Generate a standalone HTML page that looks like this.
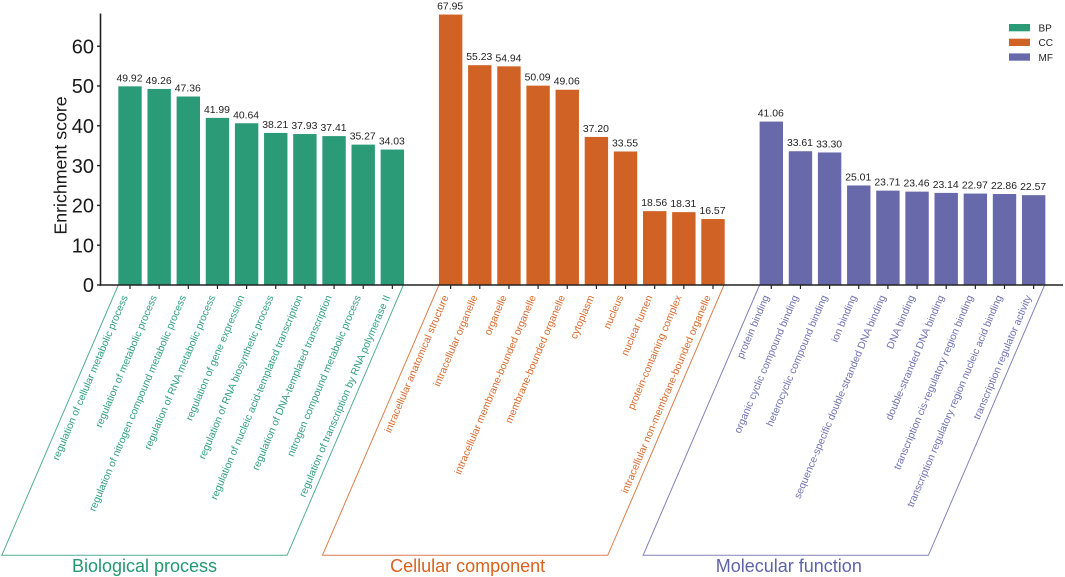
<!DOCTYPE html>
<html lang="en">
<head>
<meta charset="utf-8">
<title>GO enrichment bar chart</title>
<style>
html,body{margin:0;padding:0;background:#fff;width:1065px;height:577px;overflow:hidden}
svg{display:block;font-family:"Liberation Sans",Arial,sans-serif}
</style>
</head>
<body>
<svg id="chart" xmlns="http://www.w3.org/2000/svg" width="1065" height="577" viewBox="0 0 1065 577"></svg>
<script>
const groupKeys = ['BP', 'CC', 'MF'];
const groupTitles = ['Biological process', 'Cellular component', 'Molecular function'];
const yTicks = [0, 10, 20, 30, 40, 50, 60];
const bpTerms = ['regulation of cellular metabolic process', 'regulation of metabolic process', 'regulation of nitrogen compound metabolic process', 'regulation of RNA metabolic process', 'regulation of gene expression', 'regulation of RNA biosynthetic process', 'regulation of nucleic acid-templated transcription', 'regulation of DNA-templated transcription', 'nitrogen compound metabolic process', 'regulation of transcription by RNA polymerase II'];
const bpValues = [49.92, 49.26, 47.36, 41.99, 40.64, 38.21, 37.93, 37.41, 35.27, 34.03];
const ccTerms = ['intracellular anatomical structure', 'intracellular organelle', 'organelle', 'intracellular membrane-bounded organelle', 'membrane-bounded organelle', 'cytoplasm', 'nucleus', 'nuclear lumen', 'protein-containing complex', 'intracellular non-membrane-bounded organelle'];
const ccValues = [67.95, 55.23, 54.94, 50.09, 49.06, 37.20, 33.55, 18.56, 18.31, 16.57];
const mfTerms = ['protein binding', 'organic cyclic compound binding', 'heterocyclic compound binding', 'ion binding', 'sequence-specific double-stranded DNA binding', 'DNA binding', 'double-stranded DNA binding', 'transcription cis-regulatory region binding', 'transcription regulatory region nucleic acid binding', 'transcription regulator activity'];
const mfValues = [41.06, 33.61, 33.30, 25.01, 23.71, 23.46, 23.14, 22.97, 22.86, 22.57];

const termSets = [bpTerms, ccTerms, mfTerms];
const valueSets = [bpValues, ccValues, mfValues];
const barColors = ['#2a9a77', '#d06226', '#6869aa'];
const lineColors = ['#55ae92', '#dc7f4e', '#8183b9'];
const textColors = ['#2f9f7d', '#d9692c', '#6f71b0'];
const titleColors = ['#22996f', '#d9611f', '#5f62a9'];
const titleShift = [14.5, 17, 17.5];

const NS = 'http://www.w3.org/2000/svg';
const svg = document.getElementById('chart');
const Y0 = 285, PXPER = 3.98, X0 = 130, STEP = 29.15, BARW = 23.4;
const yScale = v => Y0 - v * PXPER;
const xScale = (g, i) => X0 + (g * 11 + i) * STEP;

function make(tag, attrs, text) {
  const el = document.createElementNS(NS, tag);
  for (const k in attrs) el.setAttribute(k, attrs[k]);
  if (text !== undefined) el.textContent = text;
  return el;
}

const axisColor = '#222222';

// bars, ticks, labels
termSets.forEach((terms, g) => {
  const key = groupKeys[g].toLowerCase();
  const left = xScale(g, 0) - 11.7;
  const right = xScale(g, terms.length - 1) + 11;
  const bx = left - 116.5, by = 555.3;

  // bracket parallelogram
  const bracket = make('polygon', {
    points: left + ',' + Y0 + ' ' + bx + ',' + by + ' ' + (bx + 285.3) + ',' + by + ' ' + right + ',' + Y0,
    fill: 'none', stroke: lineColors[g], 'stroke-width': 1
  });
  
  
  svg.appendChild(bracket);

  terms.forEach((term, i) => {
    const cx = xScale(g, i);
    const v = valueSets[g][i];

    const bar = make('rect', {
      x: cx - BARW / 2, y: yScale(v), width: BARW, height: Y0 - yScale(v), fill: barColors[g]
    });
    
    
    svg.appendChild(bar);

    const val = make('text', {
      x: cx - 0.5, y: yScale(v) - 5, 'text-anchor': 'middle', 'font-size': 10.4, fill: '#222'
    }, v.toFixed(2));
    
    
    svg.appendChild(val);

    const tick = make('line', {
      x1: cx, x2: cx, y1: Y0, y2: Y0 + 4, stroke: axisColor, 'stroke-width': 1.2
    });
    
    
    svg.appendChild(tick);

    const lx = cx - 2, ly = 297;
    const label = make('text', {
      x: lx, y: ly, 'text-anchor': 'end', 'font-size': 10.3, fill: textColors[g],
      transform: 'rotate(-67 ' + lx + ' ' + ly + ')'
    }, term);
    
    
    svg.appendChild(label);
  });

  const title = make('text', {
    x: xScale(g, 0) + titleShift[g], y: 572, 'text-anchor': 'middle', 'font-size': 18, fill: titleColors[g]
  }, groupTitles[g]);
  
  
  svg.appendChild(title);

  const swatchY = 24 + g * 14.7;
  const swatch = make('rect', { x: 1009, y: swatchY, width: 21, height: 7.3, fill: barColors[g] });
  
  
  svg.appendChild(swatch);

  const legendText = make('text', { x: 1038.5, y: swatchY + 7.5, 'font-size': 10, fill: '#222' }, groupKeys[g]);
  
  
  svg.appendChild(legendText);
});

// axes
const yAxis = make('line', { x1: 100.5, x2: 100.5, y1: 13.5, y2: Y0 + 0.8, stroke: axisColor, 'stroke-width': 1.6 });


svg.appendChild(yAxis);

const xAxis = make('line', { x1: 100, x2: 1063, y1: Y0, y2: Y0, stroke: axisColor, 'stroke-width': 1.6 });


svg.appendChild(xAxis);

yTicks.forEach(t => {
  const tick = make('line', { x1: 97, x2: 100.5, y1: yScale(t), y2: yScale(t), stroke: axisColor, 'stroke-width': 1.4 });
  
  
  svg.appendChild(tick);

  const lab = make('text', { x: 94, y: yScale(t) + 7.2, 'text-anchor': 'end', 'font-size': 20, fill: '#1a1a1a' }, String(t));
  
  
  svg.appendChild(lab);
});

const yTitle = make('text', {
  x: 66.5, y: 165.5, 'text-anchor': 'middle', 'font-size': 17.8, fill: '#1a1a1a',
  transform: 'rotate(-90 66.5 165.5)'
}, 'Enrichment score');


svg.appendChild(yTitle);
</script>
</body>
</html>
